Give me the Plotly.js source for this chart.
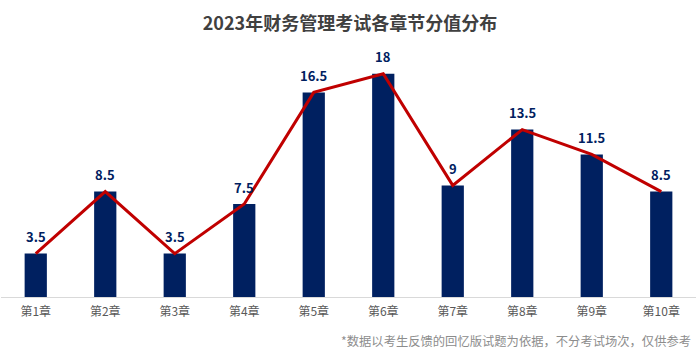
<!DOCTYPE html>
<html>
<head>
<meta charset="utf-8">
<script src="https://cdn.plot.ly/plotly-3.0.1.min.js"></script>
<style>html,body{margin:0;padding:0;background:#fff;}#chart{width:700px;height:358px;}</style>
</head>
<body>
<div id="chart"></div>
<script>
const chapters = ['第1章','第2章','第3章','第4章','第5章','第6章','第7章','第8章','第9章','第10章'];
const scores = [3.5, 8.5, 3.5, 7.5, 16.5, 18, 9, 13.5, 11.5, 8.5];
const titleText = '2023年财务管理考试各章节分值分布';
const noteText = '*数据以考生反馈的回忆版试题为依据，不分考试场次，仅供参考';

const font = '"Noto Sans CJK SC", "Microsoft YaHei", sans-serif';

const traces = [
  {type:'bar', x:chapters, y:scores, marker:{color:'#002060'}, width:0.32, hoverinfo:'x+y'},
  {type:'scatter', mode:'lines', x:chapters, y:scores, line:{color:'#C00000', width:3}, hoverinfo:'skip'}
];

const annotations = chapters.map((c,i)=>({
  x:c, y:scores[i], xref:'x', yref:'y', text:'<b>'+scores[i]+'</b>', showarrow:false,
  yshift:17, font:{family:font, size:13, color:'#002060'}
}));
annotations.push({
  xref:'paper', yref:'paper', x:0.995, y:0, xanchor:'right', yanchor:'top', yshift:-33,
  text:noteText, showarrow:false, font:{family:font, size:12.3, color:'#8c8c8c'}
});

const layout = {
  width:700, height:358,
  margin:{l:1, r:4, t:49, b:61},
  paper_bgcolor:'#fff', plot_bgcolor:'#fff',
  showlegend:false,
  title:{text:'<b>'+titleText+'</b>', x:0.5, xanchor:'center', y:0.935, yanchor:'middle', font:{family:font, size:18, color:'#404040'}},
  xaxis:{showgrid:false, showline:true, linecolor:'#d9d9d9', linewidth:1, ticks:'', ticklabelstandoff:4, tickfont:{family:font, size:12, color:'#595959'}, fixedrange:true},
  yaxis:{range:[0,20], visible:false, showgrid:false, zeroline:false, fixedrange:true},
  annotations:annotations,
  bargap:0.68
};

Plotly.newPlot('chart', traces, layout, {displayModeBar:false, staticPlot:true});
</script>
</body>
</html>
